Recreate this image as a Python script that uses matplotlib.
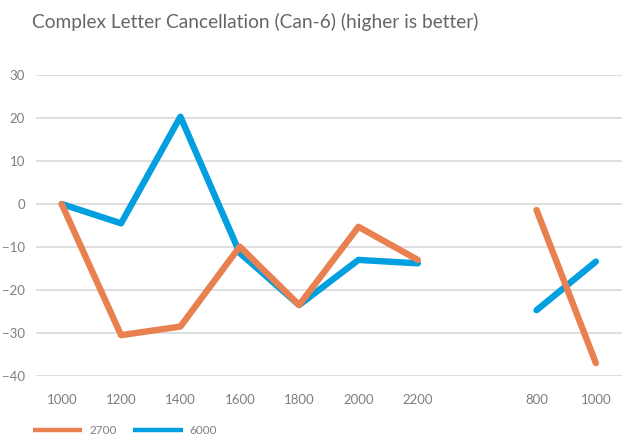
import numpy as np
import matplotlib
matplotlib.use('Agg')
from matplotlib import pyplot as plt

# ------------------------------------------------------------------
# Dados
# ------------------------------------------------------------------
categorias = ['1000', '1200', '1400', '1600', '1800', '2000', '2200', '', '800', '1000']
serie_2700 = [0, -30.5, -28.5, -9.9, -23.5, -5.3, -13, np.nan, -1.4, -37]
serie_6000 = [0, -4.5, 20.3, -11.4, -23.5, -13, -13.8, np.nan, -24.7, -13.4]
nomes = ['2700', '6000']
cores = ['#E8804F', '#009FE0']
titulo = 'Complex Letter Cancellation (Can-6) (higher is better)'

plt.rcParams['font.family'] = ['Lato', 'DejaVu Sans']

# ------------------------------------------------------------------
# Gráfico
# ------------------------------------------------------------------
fig = plt.figure(figsize=(6.22, 4.38), dpi=100)
ax = fig.add_axes([36 / 622, 1 - 376 / 438, 1 - 36 / 622, (376 - 75) / 438])

x = np.arange(len(categorias))
for serie, nome, cor in zip([serie_2700, serie_6000][::-1], nomes[::-1], cores[::-1]):
    ax.plot(x, serie, color=cor, lw=4.6, solid_capstyle='round',
            solid_joinstyle='round', label=nome)

ax.set_ylim(-40, 30)
ax.set_yticks(range(-40, 31, 10))
ax.set_xlim(-0.433, 9.44)
ax.set_xticks(x)
ax.set_xticklabels(categorias)
ax.grid(axis='y', color='#D9D9D9', lw=1.2)
ax.set_axisbelow(True)
for s in ax.spines.values():
    s.set_visible(False)
ax.tick_params(length=0, colors='#7F7F7F', labelsize=9.5)
ax.tick_params(axis='x', pad=13)
ax.tick_params(axis='y', pad=8)

fig.text(32 / 622, 1 - 22 / 438, titulo, fontsize=13.8, color='#666666',
         fontweight='normal', va='center', ha='left')

handles, labels = ax.get_legend_handles_labels()
leg = fig.legend(handles[::-1], labels[::-1], loc='center left',
                 bbox_to_anchor=(22 / 622, 1 - 431 / 438), ncol=2, frameon=False,
                 handlelength=4.2, fontsize=8.5, columnspacing=1.4, handletextpad=0.6,
                 labelcolor='#7F7F7F')
for l in leg.get_lines():
    l.set_linewidth(3.2)
    l.set_solid_capstyle('butt')

fig.savefig('out.png', dpi=100)
